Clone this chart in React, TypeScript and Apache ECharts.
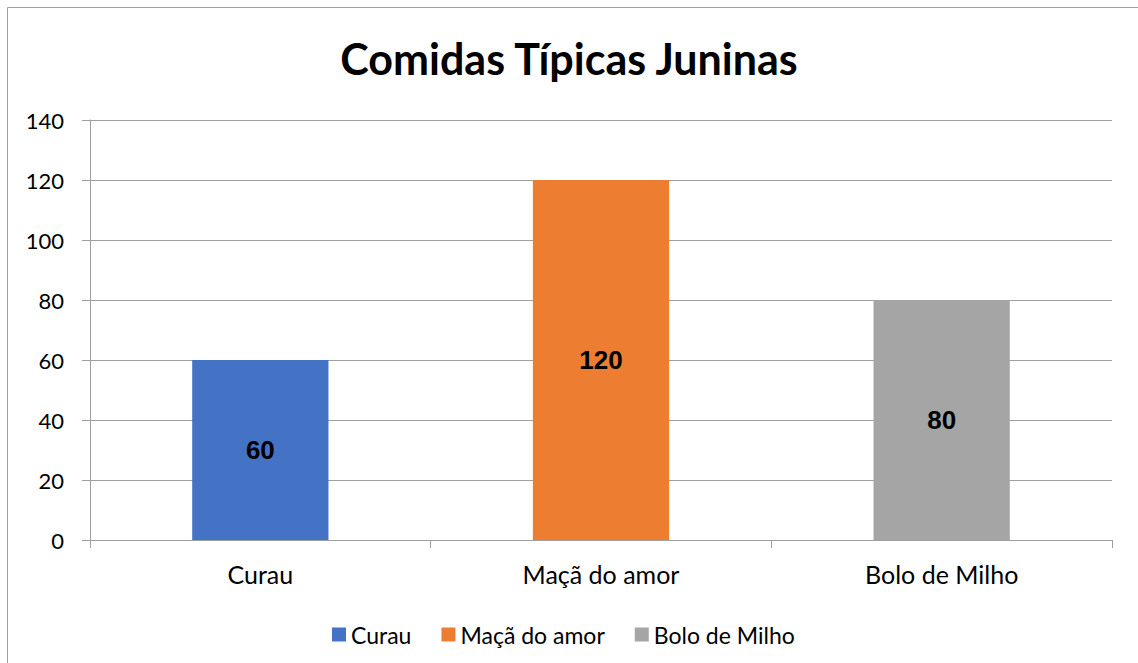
import React, { useEffect, useRef } from "react";
import * as echarts from "echarts";

const title = "Comidas Típicas Juninas";
const categories = ["Curau", "Maçã do amor", "Bolo de Milho"];
const values = [60, 120, 80];
const colors = ["#4472C4", "#ED7D31", "#A5A5A5"];
const yTicks = { min: 0, max: 140, interval: 20 };

export default function App() {
  const ref = useRef<HTMLDivElement>(null);
  useEffect(() => {
    document.body.style.margin = "0";
    const chart = echarts.init(ref.current!, null, { renderer: "svg" });
    const series = categories.map((name, i) => ({
      name,
      type: "bar",
      stack: "all",
      barWidth: "40%",
      itemStyle: { color: colors[i] },
      label: {
        show: true,
        position: "inside",
        color: "#000",
        fontFamily: "Liberation Sans, Arial, sans-serif",
        fontWeight: "bold",
        fontSize: 26,
      },
      data: categories.map((_, j) => (j === i ? values[i] : "-")),
    }));
    chart.setOption({
      animation: false,
      backgroundColor: "#fff",
      textStyle: { fontFamily: "Lato, sans-serif" },
      title: {
        text: title,
        left: "center",
        top: 32,
        textStyle: {
          fontFamily: "Lato, sans-serif",
          fontWeight: "bold",
          fontSize: 43,
          color: "#000",
        },
      },
      graphic: [
        {
          type: "rect",
          shape: { x: 7.5, y: 7.5, width: 1200, height: 700 },
          style: { fill: "none", stroke: "#a0a0a0", lineWidth: 1 },
          silent: true,
        },
      ],
      legend: {
        top: 618,
        left: 327,
        itemWidth: 14,
        itemHeight: 14,
        itemGap: 30,
        icon: "rect",
        textStyle: { fontSize: 23, color: "#000", fontFamily: "Lato, sans-serif" },
        data: categories,
      },
      grid: { left: 90, right: 26, top: 120, bottom: 123, containLabel: false },
      xAxis: {
        type: "category",
        data: categories,
        axisLine: { show: true, lineStyle: { color: "#a0a0a0", width: 1 } },
        axisTick: { show: true, length: 8, alignWithLabel: false, lineStyle: { color: "#a0a0a0" } },
        axisLabel: { margin: 21, fontSize: 25, color: "#000", fontFamily: "Lato, sans-serif" },
        splitLine: { show: false },
      },
      yAxis: {
        type: "value",
        min: yTicks.min,
        max: yTicks.max,
        interval: yTicks.interval,
        axisLine: { show: true, lineStyle: { color: "#a0a0a0", width: 1 } },
        axisTick: { show: true, length: 8, lineStyle: { color: "#a0a0a0" } },
        axisLabel: { margin: 26, fontSize: 22, color: "#000", fontFamily: "Lato, sans-serif" },
        splitLine: { show: true, lineStyle: { color: "#a0a0a0", width: 1 } },
      },
      series,
    });
    return () => chart.dispose();
  }, []);
  return <div ref={ref} style={{ width: 1138, height: 663 }} />;
}
